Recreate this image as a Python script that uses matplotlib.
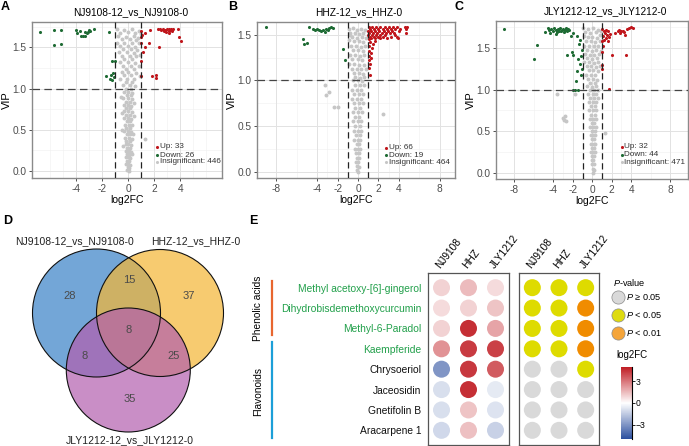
import matplotlib
matplotlib.use('Agg')
import matplotlib.pyplot as plt
from matplotlib.patches import Circle
from matplotlib.lines import Line2D
from matplotlib.colors import LinearSegmentedColormap, Normalize
from matplotlib.cm import ScalarMappable
import numpy as np

plt.rcParams['font.family'] = ['Liberation Sans', 'DejaVu Sans']
plt.rcParams['mathtext.fontset'] = 'custom'
plt.rcParams['mathtext.it'] = 'Liberation Sans:italic'
plt.rcParams['mathtext.rm'] = 'Liberation Sans'

# ---------------- data: volcano plots ----------------
titles = ["NJ9108-12_vs_NJ9108-0", "HHZ-12_vs_HHZ-0", "JLY1212-12_vs_JLY1212-0"]
up_counts = [33, 66, 32]
down_counts = [26, 19, 44]
insig_counts = [446, 464, 471]

down_A = [(-6.82, 1.683), (-5.69, 1.71), (-5.15, 1.71), (-5.74, 1.53), (-5.18, 1.545),
          (-4.0, 1.712), (-3.95, 1.68), (-3.74, 1.70), (-3.64, 1.645), (-3.49, 1.645), (-3.36, 1.645),
          (-3.31, 1.69), (-3.18, 1.673), (-3.10, 1.69), (-3.03, 1.712), (-2.92, 1.70), (-2.67, 1.72),
          (-1.49, 1.69), (-1.23, 1.34), (-1.7, 1.15), (-1.4, 1.12), (-1.3, 1.17), (-1.25, 1.10),
          (-1.15, 1.19), (-1.1, 1.14), (-1.05, 1.33)]
up_A = [(1.0, 1.70), (1.3, 1.68), (1.64, 1.71), (1.0, 1.63), (1.0, 1.55), (1.6, 1.56), (1.26, 1.51),
        (2.36, 1.51), (1.0, 1.34), (1.0, 1.15), (1.8, 1.15), (2.1, 1.16), (2.1, 1.13), (3.8, 1.73),
        (3.87, 1.63), (4.05, 1.58), (1.05, 1.65), (1.1, 1.45),
        (2.3, 1.73), (2.45, 1.72), (2.55, 1.71), (2.65, 1.72), (2.75, 1.70), (2.85, 1.71), (2.9, 1.69),
        (3.0, 1.72), (3.1, 1.70), (3.15, 1.68), (3.2, 1.71), (3.3, 1.73), (3.35, 1.70), (3.45, 1.72),
        (3.1, 1.73)]
gray_A = [(-0.9, 1.72), (-0.3, 1.71), (0.3, 1.72), (0.85, 1.70), (-0.6, 1.68), (0.0, 1.69), (0.5, 1.67),
          (0.95, 1.66), (-0.8, 1.64), (-0.2, 1.63), (0.4, 1.64), (0.75, 1.62), (-0.5, 1.60), (0.1, 1.60),
          (0.6, 1.59), (-0.9, 1.56), (-0.3, 1.56), (0.3, 1.55), (0.8, 1.55), (-0.6, 1.52), (0.0, 1.52),
          (0.5, 1.51), (-0.4, 1.48), (0.2, 1.48), (0.7, 1.47), (-0.7, 1.44), (-0.1, 1.44), (0.4, 1.43),
          (-0.5, 1.40), (0.1, 1.40), (0.6, 1.39), (0.9, 1.41), (-0.3, 1.36), (0.3, 1.36), (-0.6, 1.32),
          (0.0, 1.32), (0.5, 1.31), (-0.4, 1.28), (0.2, 1.28), (0.8, 1.27), (-0.2, 1.24), (0.4, 1.24),
          (-0.5, 1.20), (0.0, 1.20), (0.6, 1.19), (-0.3, 1.16), (0.2, 1.16), (0.9, 1.15), (-0.6, 1.12),
          (-0.1, 1.12), (0.4, 1.11), (-0.2, 1.08), (0.3, 1.08), (-0.4, 1.04), (0.1, 1.04), (0.5, 1.03),
          (-0.2, 1.00), (0.2, 1.00), (-0.3, 0.96), (0.0, 0.96), (0.3, 0.95), (-0.1, 0.92), (0.2, 0.92),
          (-0.4, 0.88), (0.0, 0.88), (0.3, 0.87), (-0.2, 0.84), (0.1, 0.84), (-0.3, 0.80), (0.0, 0.80),
          (0.2, 0.79), (-0.15, 0.76), (0.15, 0.76), (-0.35, 0.72), (0.0, 0.72), (0.25, 0.71),
          (-0.2, 0.68), (0.1, 0.68), (-0.3, 0.64), (0.0, 0.64), (0.2, 0.63), (-0.1, 0.60), (0.15, 0.60),
          (-0.25, 0.56), (0.05, 0.56), (0.3, 0.55), (-0.15, 0.52), (0.1, 0.52), (-0.3, 0.48), (0.0, 0.48),
          (0.2, 0.47), (-0.1, 0.44), (0.15, 0.44), (-0.25, 0.40), (0.05, 0.40), (0.25, 0.39),
          (-0.15, 0.36), (0.1, 0.36), (-0.2, 0.32), (0.0, 0.32), (0.2, 0.31), (-0.1, 0.28), (0.12, 0.28),
          (-0.2, 0.24), (0.05, 0.24), (0.18, 0.23), (-0.12, 0.20), (0.1, 0.20), (-0.18, 0.16),
          (0.02, 0.16), (0.15, 0.15), (-0.1, 0.12), (0.08, 0.12), (-0.15, 0.08), (0.0, 0.08), (0.12, 0.07),
          (-0.05, 0.04), (0.08, 0.03), (-0.1, 0.01), (0.03, 0.0), (1.31, 0.38),
          (-0.55, 0.90), (0.45, 0.82), (-0.5, 0.70), (0.4, 0.66), (-0.45, 0.50), (0.38, 0.45),
          (-0.4, 0.30), (0.3, 0.20)]

down_B = [(-8.98, 1.58), (-4.83, 1.58), (-4.4, 1.56), (-4.2, 1.55), (-4.0, 1.56), (-3.8, 1.55),
          (-3.6, 1.54), (-3.4, 1.55), (-3.2, 1.53), (-3.1, 1.56), (-2.95, 1.55), (-2.8, 1.57),
          (-2.65, 1.58), (-2.5, 1.57), (-5.4, 1.45), (-5.3, 1.40), (-5.0, 1.41), (-1.5, 1.34), (-1.24, 1.22)]
up_B = [(1.05, 1.45), (1.2, 1.42), (1.1, 1.38), (1.35, 1.36), (1.05, 1.32), (1.25, 1.30), (1.1, 1.27),
        (1.3, 1.24), (1.05, 1.22), (1.2, 1.18), (1.1, 1.14), (1.15, 1.06), (1.5, 1.40), (1.7, 1.43),
        (1.1, 1.58), (1.4, 1.58), (1.8, 1.58), (2.2, 1.58), (2.6, 1.58), (3.0, 1.58), (3.4, 1.58),
        (3.8, 1.58), (4.6, 1.58), (4.8, 1.58),
        (1.2, 1.56), (1.6, 1.56), (2.0, 1.56), (2.4, 1.56), (2.8, 1.56), (3.2, 1.56), (3.6, 1.56),
        (4.1, 1.56), (4.7, 1.56),
        (1.0, 1.54), (1.3, 1.54), (1.7, 1.54), (2.1, 1.54), (2.5, 1.54), (2.9, 1.54), (3.3, 1.54), (4.0, 1.54),
        (1.1, 1.52), (1.5, 1.52), (1.9, 1.52), (2.3, 1.52), (2.7, 1.52), (3.1, 1.52), (3.5, 1.52), (4.7, 1.52),
        (1.0, 1.50), (1.4, 1.50), (1.8, 1.50), (2.2, 1.50), (2.6, 1.50), (3.6, 1.50),
        (1.2, 1.48), (1.6, 1.48), (2.0, 1.48), (2.4, 1.48), (3.2, 1.48), (3.8, 1.48),
        (1.3, 1.46), (1.7, 1.46), (2.2, 1.46), (2.8, 1.46), (3.9, 1.46)]
gray_B = [(-0.9, 1.56), (-0.5, 1.57), (-0.1, 1.55), (0.3, 1.56), (0.7, 1.55), (-0.8, 1.52), (-0.3, 1.52),
          (0.1, 1.51), (0.5, 1.52), (-0.6, 1.48), (-0.1, 1.47), (0.35, 1.48), (0.75, 1.47), (-0.85, 1.44),
          (-0.4, 1.43), (0.05, 1.43), (0.5, 1.42), (-0.7, 1.38), (-0.2, 1.38), (0.25, 1.37), (0.65, 1.38),
          (-0.5, 1.33), (0.0, 1.33), (0.45, 1.32), (-0.8, 1.28), (-0.3, 1.28), (0.15, 1.27), (0.6, 1.28),
          (-0.55, 1.23), (-0.05, 1.23), (0.4, 1.22), (-0.9, 1.18), (-0.35, 1.18), (0.1, 1.17), (0.55, 1.17),
          (-0.6, 1.13), (-0.15, 1.13), (0.3, 1.12), (0.75, 1.12), (-0.4, 1.08), (0.05, 1.08), (0.5, 1.07),
          (-0.25, 1.04), (0.2, 1.03), (0.6, 1.04), (-0.5, 1.00), (0.0, 1.00), (0.4, 0.99), (-0.3, 0.95),
          (0.15, 0.95), (0.55, 0.95), (-0.55, 0.90), (-0.1, 0.90), (0.3, 0.90), (-0.35, 0.85), (0.1, 0.85),
          (0.5, 0.85), (-0.6, 0.80), (-0.15, 0.80), (0.25, 0.80), (-0.4, 0.75), (0.05, 0.75), (0.45, 0.75),
          (-0.25, 0.70), (0.2, 0.70), (-0.5, 0.65), (-0.05, 0.65), (0.35, 0.65), (-0.3, 0.60), (0.1, 0.60),
          (-0.45, 0.55), (-0.05, 0.55), (0.3, 0.55), (-0.25, 0.50), (0.15, 0.50), (-0.4, 0.45), (0.0, 0.45),
          (0.25, 0.45), (-0.2, 0.40), (0.15, 0.40), (-0.35, 0.35), (0.0, 0.35), (0.2, 0.35), (-0.15, 0.30),
          (0.1, 0.30), (-0.3, 0.25), (0.0, 0.25), (0.15, 0.25), (-0.2, 0.20), (0.08, 0.20), (-0.1, 0.15),
          (0.12, 0.15), (-0.2, 0.10), (0.02, 0.10), (-0.08, 0.06), (0.1, 0.05), (-0.12, 0.02), (0.02, 0.0),
          (-3.26, 0.95), (-3.1, 0.84), (-2.87, 0.87), (-2.35, 0.71), (-1.96, 0.71), (2.45, 0.63), (-0.81, 1.50)]

down_C = [(-9.03, 1.725), (-5.7, 1.54), (-5.95, 1.37),
          (-4.85, 1.69), (-4.6, 1.74), (-4.4, 1.72), (-4.2, 1.73), (-4.0, 1.70), (-3.9, 1.74), (-3.75, 1.72),
          (-3.6, 1.69), (-3.5, 1.73), (-3.4, 1.71), (-3.3, 1.74), (-3.2, 1.70), (-3.1, 1.72), (-3.0, 1.73),
          (-2.9, 1.69), (-2.8, 1.72), (-2.7, 1.74), (-2.6, 1.70), (-2.5, 1.73), (-2.4, 1.72), (-4.3, 1.68),
          (-3.7, 1.67), (-2.2, 1.65), (-2.0, 1.68),
          (-2.62, 1.41), (-2.1, 1.45), (-2.0, 1.42), (-1.6, 1.65), (-1.4, 1.55), (-1.3, 1.60), (-1.5, 1.37),
          (-1.3, 1.31), (-1.6, 1.22), (-1.7, 1.1), (-2.0, 1.0), (-1.5, 1.0), (-1.8, 1.0), (-1.1, 1.48),
          (-1.05, 1.25), (-1.15, 1.18), (-1.2, 1.40)]
up_C = [(1.04, 1.73), (1.2, 1.71), (1.4, 1.72), (1.6, 1.70), (1.3, 1.68), (1.5, 1.66), (1.1, 1.64),
        (1.7, 1.63), (1.25, 1.60), (1.45, 1.62), (1.8, 1.67), (1.05, 1.58), (1.6, 1.58), (1.15, 1.52),
        (2.3, 1.68), (2.6, 1.70), (2.8, 1.72), (2.9, 1.68), (3.0, 1.71), (3.2, 1.70), (3.4, 1.66),
        (3.6, 1.73), (3.8, 1.74), (4.0, 1.75), (4.2, 1.74), (3.3, 1.69),
        (2.0, 1.41), (3.47, 1.41), (1.0, 1.45), (1.0, 1.30), (1.0, 1.25), (1.75, 1.01)]
gray_C = [(-0.9, 1.74), (-0.4, 1.73), (0.1, 1.74), (0.6, 1.72), (0.95, 1.70), (-0.7, 1.69), (-0.2, 1.68),
          (0.35, 1.69), (0.8, 1.66), (-0.85, 1.64), (-0.45, 1.63), (0.0, 1.63), (0.5, 1.62), (-0.6, 1.58),
          (-0.1, 1.58), (0.3, 1.57), (0.75, 1.58), (-0.8, 1.53), (-0.35, 1.53), (0.15, 1.52), (0.6, 1.52),
          (-0.55, 1.48), (-0.05, 1.47), (0.4, 1.48), (0.9, 1.47), (-0.75, 1.43), (-0.25, 1.42), (0.2, 1.42),
          (0.65, 1.43), (-0.5, 1.38), (0.0, 1.37), (0.45, 1.38), (-0.8, 1.33), (-0.3, 1.33), (0.15, 1.32),
          (0.6, 1.33), (-0.55, 1.28), (-0.1, 1.28), (0.35, 1.27), (0.8, 1.28), (-0.35, 1.23), (0.1, 1.23),
          (0.55, 1.22), (-0.6, 1.18), (-0.15, 1.18), (0.3, 1.17), (-0.4, 1.13), (0.05, 1.13), (0.5, 1.12),
          (-0.2, 1.08), (0.25, 1.08), (-0.5, 1.04), (0.0, 1.03), (0.4, 1.04), (-0.25, 1.00), (0.15, 1.00),
          (0.6, 0.99), (-0.4, 0.95), (0.05, 0.95), (0.4, 0.95), (-0.2, 0.90), (0.2, 0.90), (0.55, 0.90),
          (-0.35, 0.85), (0.05, 0.85), (0.35, 0.85), (-0.15, 0.80), (0.25, 0.80), (-0.3, 0.75), (0.05, 0.75),
          (0.4, 0.75), (-0.1, 0.70), (0.25, 0.70), (-0.25, 0.65), (0.1, 0.65), (0.35, 0.65), (-0.05, 0.60),
          (0.2, 0.60), (-0.2, 0.55), (0.1, 0.55), (0.35, 0.55), (-0.05, 0.50), (0.25, 0.50), (-0.15, 0.45),
          (0.1, 0.45), (0.3, 0.45), (0.0, 0.40), (0.2, 0.40), (-0.1, 0.35), (0.15, 0.35), (0.3, 0.35),
          (0.0, 0.30), (0.2, 0.30), (-0.1, 0.25), (0.1, 0.25), (0.25, 0.25), (0.0, 0.20), (0.18, 0.20),
          (-0.05, 0.15), (0.12, 0.15), (0.0, 0.10), (0.2, 0.10), (0.05, 0.05), (0.15, 0.03), (0.08, 0.0),
          (-3.65, 0.945), (-1.76, 0.945), (-3.0, 0.66), (-2.9, 0.63), (-2.8, 0.68), (-2.75, 0.62), (1.3, 0.48)]

# ---------------- data: Venn ----------------
venn_sets = ["NJ9108-12_vs_NJ9108-0", "HHZ-12_vs_HHZ-0", "JLY1212-12_vs_JLY1212-0"]
venn_regions = ["NJ", "NJ&HHZ", "HHZ", "ALL", "NJ&JLY", "HHZ&JLY", "JLY"]
venn_counts = [28, 15, 37, 8, 8, 25, 35]

# ---------------- data: dot matrix ----------------
metabolites = ["Methyl acetoxy-[6]-gingerol", "Dihydrobisdemethoxycurcumin", "Methyl-6-Paradol",
               "Kaempferide", "Chrysoeriol", "Jaceosidin", "Gnetifolin B", "Aracarpene 1"]
met_class = ["Phenolic acids"] * 4 + ["Flavonoids"] * 4
cultivars = ["NJ9108", "HHZ", "JLY1212"]
log2fc = [[1.0, 1.5, 0.8],
          [0.8, 1.0, 1.3],
          [1.0, 4.6, 2.0],
          [2.4, 4.3, 4.2],
          [-3.0, 4.4, 3.6],
          [-0.9, 4.6, -0.6],
          [-0.9, 1.3, -0.8],
          [-1.1, 1.4, -1.3]]
p_level = [[1, 1, 1],
           [1, 1, 2],
           [1, 1, 2],
           [1, 1, 2],
           [0, 0, 1],
           [0, 0, 0],
           [0, 0, 0],
           [0, 0, 0]]
p_labels = [r"$\it{P}$ ≥ 0.05", r"$\it{P}$ < 0.05", r"$\it{P}$ < 0.01"]

# ---------------- figure ----------------
W, H = 689, 446
fig = plt.figure(figsize=(W / 100, H / 100), dpi=100)
fig.patch.set_facecolor('white')


def px_axes(x0, y0, x1, y1):
    return fig.add_axes([x0 / W, 1 - y1 / H, (x1 - x0) / W, (y1 - y0) / H])


def fig_text(x, y, s, **kw):
    fig.text(x / W, 1 - y / H, s, **kw)


RED, GREEN, GRAY = '#c0161c', '#1e6b34', '#c6c6c6'


def volcano(box, title, title_x, up, down, gray, i, xlim, ylim, xticks, minor_x, leg, ylab_x):
    ax = px_axes(*box)
    for v in minor_x:
        ax.axvline(v, color='#f0f0f0', lw=0.4, zorder=0)
    for v in [0.25, 0.75, 1.25, 1.75]:
        ax.axhline(v, color='#f0f0f0', lw=0.4, zorder=0)
    for v in xticks:
        ax.axvline(v, color='#e2e2e2', lw=0.7, zorder=0)
    for v in [0, 0.5, 1.0, 1.5]:
        ax.axhline(v, color='#e2e2e2', lw=0.7, zorder=0)
    g = np.array(gray)
    ax.scatter(g[:, 0], g[:, 1], s=8, color=GRAY, lw=0, zorder=2)
    d = np.array(down)
    ax.scatter(d[:, 0], d[:, 1], s=5, color=GREEN, lw=0, zorder=3)
    u = np.array(up)
    ax.scatter(u[:, 0], u[:, 1], s=5, color=RED, lw=0, zorder=3)
    for v in (-1, 1):
        ax.axvline(v, color='#222222', lw=0.9, ls=(0, (5, 3)), zorder=4)
    ax.axhline(1, color='#444444', lw=0.9, ls=(0, (6, 3.5)), zorder=4)
    ax.set_xlim(*xlim)
    ax.set_ylim(*ylim)
    ax.set_xticks(xticks)
    ax.set_xticklabels([f"{t:g}" for t in xticks])
    ax.set_yticks([0, 0.5, 1.0, 1.5])
    ax.set_yticklabels(["0.0", "0.5", "1.0", "1.5"])
    ax.tick_params(length=2.5, width=0.6, color='#333333', labelsize=7.3, labelcolor='#4d4d4d', pad=1.5)
    for sp in ax.spines.values():
        sp.set_color('#8a8a8a')
        sp.set_linewidth(1.0)
    ax.set_xlabel("log2FC", fontsize=7.5, labelpad=1)
    ax.set_ylabel("VIP", fontsize=8)
    ax.yaxis.set_label_coords(ylab_x, 0.5)
    ax.text(title_x, 1.065, title, transform=ax.transAxes, ha='center', va='center', fontsize=7.3)
    mx, tx, ys = leg
    labels = [f"Up: {up_counts[i]}", f"Down: {down_counts[i]}", f"Insignificant: {insig_counts[i]}"]
    for c, lab, yy in zip([RED, GREEN, GRAY], labels, ys):
        ax.scatter([mx], [yy], s=5, color=c, lw=0, transform=ax.transAxes, zorder=5)
        ax.text(tx, yy, lab, transform=ax.transAxes, fontsize=5.9, color='#333333', va='center', ha='left')
    return ax


volcano((32, 22, 222, 178), titles[0], 0.518, up_A, down_A, gray_A, 0,
        (-7.4, 7.2), (-0.09, 1.81), [-4, -2, 0, 2, 4], [-6, -5, -3, -1, 1, 3, 5, 6],
        (0.66, 0.674, [0.200, 0.147, 0.105]), -0.103)
volcano((257, 22, 455, 178), titles[1], 0.514, up_B, down_B, gray_B, 1,
        (-9.9, 9.5), (-0.07, 1.64), [-8, -4, -2, 0, 2, 4, 8], [-6, -3, -1, 1, 3, 6],
        (0.652, 0.666, [0.194, 0.146, 0.101]), -0.10)
volcano((496, 21, 688, 179), titles[2], 0.572, up_C, down_C, gray_C, 2,
        (-9.9, 9.85), (-0.076, 1.825), [-8, -4, -2, 0, 2, 4, 8], [-6, -3, -1, 1, 3, 6],
        (0.655, 0.667, [0.203, 0.152, 0.106]), -0.105)

for lab, x, y in [("A", 5, 7), ("B", 233, 7), ("C", 459, 7), ("D", 8, 221), ("E", 253, 221)]:
    fig_text(x, y, lab, fontsize=9, fontweight='bold', ha='center', va='center')

# ---------------- Venn ----------------
axv = px_axes(0, 225, 250, 446)
axv.set_xlim(0, 250)
axv.set_ylim(446, 225)
axv.axis('off')
circ = [((96.5, 313), 64), ((160, 313), 63.5), ((128.3, 370), 62)]
fills = ['#3881c7', '#f5b633', '#b25eae']
for (c, r), fc in zip(circ, fills):
    axv.add_patch(Circle(c, r, facecolor=fc, alpha=0.7, edgecolor='none'))
for (c, r) in circ:
    axv.add_patch(Circle(c, r, facecolor='none', edgecolor='#111111', lw=0.8))
region_pos = [(69.3, 296), (129.3, 280), (188.3, 296), (128.3, 330), (84.3, 355.7), (173.3, 355.7), (129.3, 399.3)]
for n, (x, y) in zip(venn_counts, region_pos):
    axv.text(x, y, str(n), ha='center', va='center', fontsize=8, color='#4a4a4a')
for name, (x, y) in zip(venn_sets, [(74, 240.7), (196, 240.7), (129.3, 440)]):
    axv.text(x, y, name, ha='center', va='center', fontsize=7.5, color='#222222')

# ---------------- dot matrix ----------------
cmap = LinearSegmentedColormap.from_list('bwr_c', ['#2c4f9f', '#ffffff', '#c01d24'])
norm = Normalize(-5, 5)
rows = np.arange(len(metabolites))
cols = np.arange(len(cultivars))
CX, CY = np.meshgrid(cols, rows)

axl = px_axes(428, 273, 509, 445)
axr = px_axes(519, 273, 599, 445)
fc_vals = np.array(log2fc)
axl.scatter(CX.ravel(), CY.ravel(), c=fc_vals.ravel(), cmap=cmap, norm=norm, s=150, lw=0)
p_colors = ['#d9d9d9', '#dedb00', '#f08c00']
pv = np.array(p_level)
axr.scatter(CX.ravel(), CY.ravel(), c=[p_colors[k] for k in pv.ravel()], s=150, lw=0)
for a in (axl, axr):
    a.set_xlim(-0.5, 2.5)
    a.set_ylim(7.72, -0.72)
    a.set_xticks([])
    for sp in a.spines.values():
        sp.set_color('#555555')
        sp.set_linewidth(0.9)
    for c, name in zip(cols, cultivars):
        a.text(c - 0.12, -1.0, name, rotation=52, rotation_mode='anchor', ha='left', va='center',
               fontsize=7.3)
axr.set_yticks([])
axl.set_yticks(rows)
axl.set_yticklabels(metabolites, fontsize=7.4)
axl.tick_params(axis='y', length=0, pad=5)
for lbl, cl in zip(axl.get_yticklabels(), met_class):
    lbl.set_color('#22a04b' if cl == "Phenolic acids" else '#111111')

# class brackets
fig.add_artist(Line2D([272 / W, 272 / W], [1 - 281 / H, 1 - 335 / H], color='#e8662f', lw=1.6))
fig.add_artist(Line2D([272 / W, 272 / W], [1 - 342 / H, 1 - 438 / H], color='#1c9fd8', lw=1.6))
fig_text(258, 308, "Phenolic acids", rotation=90, ha='center', va='center', fontsize=7.3)
fig_text(258, 392, "Flavonoids", rotation=90, ha='center', va='center', fontsize=7.3)

# P legend
axp = px_axes(605, 272, 689, 345)
axp.set_xlim(605, 689)
axp.set_ylim(345, 272)
axp.axis('off')
axp.text(613.3, 282.3, r"$\it{P}$-value", fontsize=6.6, va='center', ha='left')
leg_fill = ['#d9d9d9', '#dedb10', '#f5a53a']
for k, (yy, lab) in enumerate(zip([296.7, 315, 332.7], p_labels)):
    axp.scatter([618.3], [yy], s=90, color=leg_fill[k], edgecolor='#8a8a8a', lw=0.5)
    axp.text(626, yy, lab, fontsize=6.6, va='center', ha='left')

# colorbar
cax = px_axes(621, 367, 632, 439)
cb = fig.colorbar(ScalarMappable(norm=norm, cmap=cmap), cax=cax, ticks=[-3, 0, 3])
cb.outline.set_visible(False)
cax.plot([1, 1], [0, 1], transform=cax.transAxes, color='black', lw=0.8, clip_on=False)
cax.tick_params(length=2, width=0.6, labelsize=6.2, pad=0.5)
fig_text(616.5, 355, "log2FC", fontsize=7, ha='left', va='center')

fig.savefig('out.png', dpi=100)
